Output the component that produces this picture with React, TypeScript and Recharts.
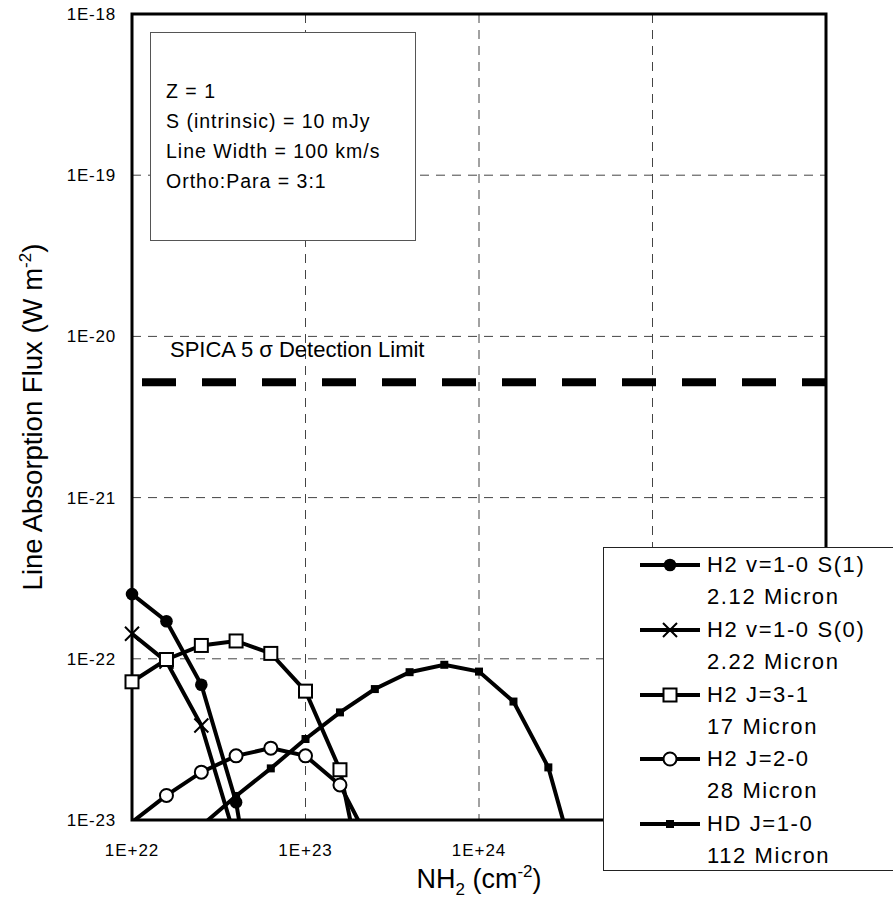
import React from 'react';
import { LineChart, Line, XAxis, YAxis, CartesianGrid, ReferenceLine, ReferenceArea, Legend } from 'recharts';

const FONT = '"Liberation Sans", Arial, Helvetica, sans-serif';

// N(H2) in cm^-2, points every 0.2 dex
const s1X = [1e22, 1.58e22, 2.51e22, 3.98e22, 6.31e22];
const s1Y = [2.52e-22, 1.71e-22, 6.9e-23, 1.29e-23, 6.5e-25];

const s0X = [1e22, 1.58e22, 2.51e22, 3.98e22];
const s0Y = [1.43e-22, 9.6e-23, 3.86e-23, 7.4e-24];

const j31X = [1e22, 1.58e22, 2.51e22, 3.98e22, 6.31e22, 1e23, 1.58e23, 2.51e23];
const j31Y = [7.2e-23, 9.9e-23, 1.21e-22, 1.29e-22, 1.08e-22, 6.3e-23, 2.05e-23, 1.8e-24];

const j20X = [1e22, 1.58e22, 2.51e22, 3.98e22, 6.31e22, 1e23, 1.58e23, 2.51e23];
const j20Y = [9.7e-24, 1.42e-23, 1.98e-23, 2.5e-23, 2.79e-23, 2.5e-23, 1.65e-23, 6.3e-24];

const hdX = [2.51e22, 3.98e22, 6.31e22, 1e23, 1.58e23, 2.51e23, 3.98e23, 6.31e23, 1e24, 1.58e24, 2.51e24, 3.98e24];
const hdY = [9.2e-24, 1.41e-23, 2.09e-23, 3.18e-23, 4.65e-23, 6.49e-23, 8.26e-23, 9.18e-23, 8.33e-23, 5.43e-23, 2.12e-23, 3.6e-24];

const xTicks = [1e22, 1e23, 1e24, 1e25, 1e26];
const yTicks = [1e-23, 1e-22, 1e-21, 1e-20, 1e-19, 1e-18];
const detectionLimit = 5.2e-21;

const legendNames = [
  ['H2 v=1-0 S(1)', '2.12 Micron'],
  ['H2 v=1-0 S(0)', '2.22 Micron'],
  ['H2 J=3-1', '17 Micron'],
  ['H2 J=2-0', '28 Micron'],
  ['HD J=1-0', '112 Micron'],
];
const infoLines = ['Z = 1', 'S (intrinsic) = 10 mJy', 'Line Width = 100 km/s', 'Ortho:Para = 3:1'];

type Shape = 'disc' | 'cross' | 'square' | 'ring' | 'block';

const toPoints = (xs: number[], ys: number[]) => xs.map((x, i) => ({ x, y: ys[i] }));

const series: { key: string; shape: Shape; data: { x: number; y: number }[] }[] = [
  { key: 's1', shape: 'disc', data: toPoints(s1X, s1Y) },
  { key: 's0', shape: 'cross', data: toPoints(s0X, s0Y) },
  { key: 'j31', shape: 'square', data: toPoints(j31X, j31Y) },
  { key: 'j20', shape: 'ring', data: toPoints(j20X, j20Y) },
  { key: 'hd', shape: 'block', data: toPoints(hdX, hdY) },
];

const fmtExp = (v: number) => {
  const e = Math.round(Math.log10(v));
  return `1E${e >= 0 ? '+' : ''}${e}`;
};

// the last two x labels sit under the legend box in the original, so leave them blank
const fmtX = (v: number) => (v > 1e24 ? '' : fmtExp(v));

const Marker = ({ shape, cx, cy }: { shape: Shape; cx: number; cy: number }) => {
  switch (shape) {
    case 'disc':
      return <circle cx={cx} cy={cy} r={6.3} fill="#000" />;
    case 'cross':
      return (
        <path
          d={`M${cx - 7},${cy - 7}L${cx + 7},${cy + 7}M${cx - 7},${cy + 7}L${cx + 7},${cy - 7}`}
          stroke="#000"
          strokeWidth={2}
          fill="none"
        />
      );
    case 'square':
      return <rect x={cx - 6.5} y={cy - 6.5} width={13} height={13} fill="#fff" stroke="#000" strokeWidth={2} />;
    case 'ring':
      return <circle cx={cx} cy={cy} r={6.5} fill="#fff" stroke="#000" strokeWidth={2} />;
    default:
      return <rect x={cx - 4} y={cy - 4} width={8} height={8} fill="#000" />;
  }
};

// hide markers that fall below the plotted range (Excel drops them)
const makeDot = (shape: Shape) => (props: any) => {
  const { cx, cy, payload, index } = props;
  if (cx == null || cy == null || payload.y < 1e-23) return <g key={`d-${index}`} />;
  return (
    <g key={`d-${index}`}>
      <Marker shape={shape} cx={cx} cy={cy} />
    </g>
  );
};

const XTitle = (props: any) => {
  const { x, y, width } = props.viewBox;
  return (
    <text x={x + width / 2} y={y + 68} textAnchor="middle" fontSize={27} fontFamily={FONT} fill="#000">
      NH<tspan fontSize={17} dy={7}>2</tspan>
      <tspan dy={-7}> (cm</tspan>
      <tspan fontSize={17} dy={-11}>-2</tspan>
      <tspan dy={11}>)</tspan>
    </text>
  );
};

const YTitle = (props: any) => {
  const { y, height } = props.viewBox;
  return (
    <text
      transform={`translate(42, ${y + height / 2}) rotate(-90)`}
      textAnchor="middle"
      fontSize={27.5}
      fontFamily={FONT}
      fill="#000"
    >
      Line Absorption Flux (W m<tspan fontSize={17} dy={-11}>-2</tspan>
      <tspan dy={11}>)</tspan>
    </text>
  );
};

const SpicaLabel = (props: any) => {
  const { x, y } = props.viewBox;
  return (
    <text x={x + 38} y={y - 25} fontSize={22} fontFamily={FONT} fill="#000">
      SPICA 5 σ Detection Limit
    </text>
  );
};

const renderLegend = () => (
  <div
    style={{
      position: 'relative',
      width: 300,
      height: 324,
      boxSizing: 'border-box',
      border: '1.5px solid #222',
      background: '#fff',
      fontFamily: FONT,
      fontSize: 22,
      letterSpacing: 1.6,
      color: '#000',
    }}
  >
    {legendNames.map((lines, i) => (
      <div key={lines[0]}>
        <svg
          width={60}
          height={20}
          style={{ position: 'absolute', left: 36, top: 7 + 64.75 * i }}
        >
          <line x1={0} y1={10} x2={60} y2={10} stroke="#000" strokeWidth={4} />
          <Marker shape={series[i].shape} cx={30} cy={10} />
        </svg>
        <div style={{ position: 'absolute', left: 103, top: 1 + 64.75 * i, lineHeight: '32px', whiteSpace: 'nowrap' }}>
          {lines[0]}
          <br />
          {lines[1]}
        </div>
      </div>
    ))}
  </div>
);

const App = () => (
  <div
    style={{
      position: 'absolute',
      left: 0,
      top: 0,
      width: 893,
      height: 922,
      overflow: 'hidden',
      background: '#fff',
      fontFamily: FONT,
    }}
  >
    <LineChart width={893} height={922} margin={{ top: 14, right: 67, bottom: 0, left: 0 }}>
      <CartesianGrid stroke="#444" strokeDasharray="9 7" />
      <XAxis
        dataKey="x"
        type="number"
        scale="log"
        domain={[1e22, 1e26]}
        ticks={xTicks}
        interval={0}
        axisLine={false}
        tickLine={false}
        tickSize={0}
        tickMargin={24}
        height={102}
        tickFormatter={fmtX}
        tick={{ fontSize: 17, fill: '#000', fontFamily: FONT, letterSpacing: 1 }}
        label={XTitle}
      />
      <YAxis
        type="number"
        scale="log"
        domain={[1e-23, 1e-18]}
        ticks={yTicks}
        interval={0}
        allowDataOverflow
        axisLine={false}
        tickLine={false}
        tickSize={0}
        tickMargin={16}
        width={132}
        tickFormatter={fmtExp}
        tick={{ fontSize: 17, fill: '#000', fontFamily: FONT, letterSpacing: 0.8 }}
        label={YTitle}
      />
      <ReferenceLine
        y={detectionLimit}
        stroke="#000"
        strokeWidth={8}
        strokeDasharray="34 26"
        strokeDashoffset={50}
        label={SpicaLabel}
      />
      {series.map((s) => (
        <Line
          key={s.key}
          data={s.data}
          dataKey="y"
          type="linear"
          stroke="#000"
          strokeWidth={4}
          dot={makeDot(s.shape)}
          activeDot={false}
          isAnimationActive={false}
        />
      ))}
      <ReferenceArea x1={1e22} x2={1e26} y1={1e-23} y2={1e-18} fill="none" stroke="#000" strokeWidth={3} />
      <Legend
        layout="vertical"
        align="center"
        verticalAlign="middle"
        wrapperStyle={{ left: 603, top: 547, width: 300, height: 324 }}
        content={renderLegend}
      />
    </LineChart>
    <div
      style={{
        position: 'absolute',
        left: 150,
        top: 32,
        width: 266,
        height: 209,
        boxSizing: 'border-box',
        border: '1.5px solid #555',
        background: '#fff',
        padding: '43px 0 0 15px',
        fontSize: 19.5,
        lineHeight: '30px',
        letterSpacing: 1,
        color: '#000',
      }}
    >
      {infoLines.map((t) => (
        <div key={t}>{t}</div>
      ))}
    </div>
  </div>
);

export default App;
